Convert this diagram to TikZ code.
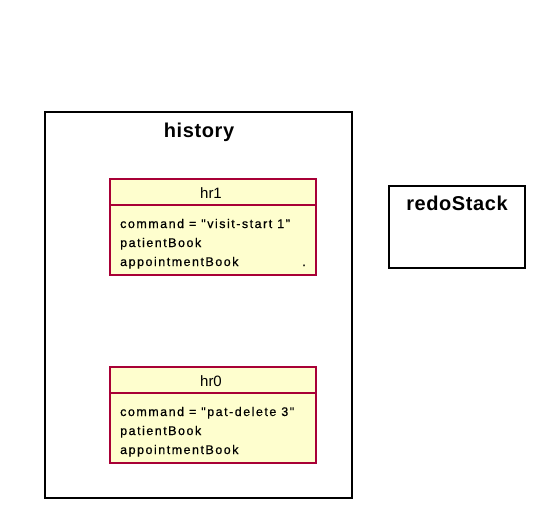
\documentclass[tikz,border=0pt]{standalone}
\usepackage{fontspec}
\setmainfont{Liberation Sans}
\newfontfamily\attrfont[LetterSpace=12,FakeBold=0.6]{Liberation Sans}
\newfontfamily\titlefont[LetterSpace=3]{Liberation Sans}
\definecolor{umlfill}{HTML}{FEFECE}
\definecolor{umlline}{HTML}{A80036}
\tikzset{
  frameline/.style={draw=black, line width=1.5pt},
  objbox/.style={draw=umlline, fill=umlfill, line width=1.5pt},
  objline/.style={draw=umlline, line width=1.2pt},
  frametitle/.style={font=\titlefont\fontsize{20}{24}\selectfont\bfseries, anchor=base},
  objname/.style={font=\fontsize{15}{18}\selectfont, anchor=base},
  attr/.style={font=\attrfont\fontsize{12.5}{15}\selectfont, anchor=base west, inner sep=0pt},
}
\begin{document}
\begin{tikzpicture}[x=1pt, y=-1pt]
\useasboundingbox (0,0) rectangle (540,514);

    % Draw the history frame
    \draw[frameline] (45,112) rectangle (352,498);
    \node[frametitle] (historytitle) at (199,137) {history};

    % Object hr1
    \draw[objbox] (110,179) rectangle (316,275);
    \draw[objline] (110,205) -- (316,205);
    \node[objname] (hr1) at (211,198) {hr1};
    \node[attr] (hr1cmd) at (120,228) {command = "visit-start 1"};
    \node[attr] (hr1pat) at (120,247) {patientBook};
    \node[attr] (hr1app) at (120,266) {appointmentBook};
    \node[attr] (hr1dot) at (302,266) {.};

    % Object hr0
    \draw[objbox] (110,367) rectangle (316,463);
    \draw[objline] (110,393) -- (316,393);
    \node[objname] (hr0) at (211,386) {hr0};
    \node[attr] (hr0cmd) at (120,416) {command = "pat-delete 3"};
    \node[attr] (hr0pat) at (120,435) {patientBook};
    \node[attr] (hr0app) at (120,454) {appointmentBook};

    % Draw the redoStack frame
    \draw[frameline] (389,186) rectangle (525,268);
    \node[frametitle] (redotitle) at (457,210) {redoStack};

\end{tikzpicture}
\end{document}
